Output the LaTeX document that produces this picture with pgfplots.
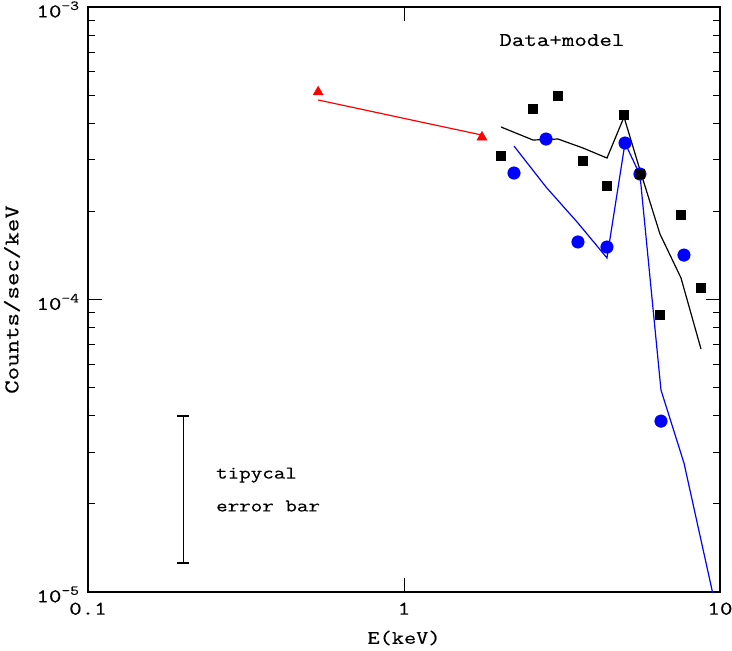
\documentclass[border=0pt]{standalone}
\usepackage{fontspec}
\setmonofont[FakeStretch=1.25, FakeBold=0.4]{Latin Modern Mono}
\usepackage{pgfplots}
\pgfplotsset{compat=1.18}
\begin{document}
\begin{tikzpicture}[font=\ttfamily]
\begin{axis}[
	scale only axis,
	width=632bp, height=585bp,
	xmode=log, ymode=log,
	xmin=0.1, xmax=10, ymin=1e-5, ymax=1e-3,
	xtick={0.1,1,10}, xticklabels={0.1,1,10},
	ytick={1e-5,1e-4,1e-3},
	yticklabels={10\textsuperscript{-5},10\textsuperscript{-4},10\textsuperscript{-3}},
	xminorticks=false,
	tick align=inside,
	major tick length=14bp, minor tick length=7.5bp,
	every tick/.style={black, line width=1bp},
	axis line style={line width=1.3bp},
	ticklabel style={font=\ttfamily\fontsize{19.5}{22}\selectfont},
	xticklabel style={yshift=-7bp},
	yticklabel style={xshift=-5bp, yshift=-2.5bp},
	xlabel={E(keV)}, ylabel={Counts/sec/keV},
	xlabel style={font=\ttfamily\fontsize{19}{22}\selectfont, anchor=center, at={(axis description cs:0.5,-0.0786)}},
	ylabel style={font=\ttfamily\fontsize{21}{24}\selectfont, anchor=center, at={(axis description cs:-0.1203,0.5)}},
]
% blue model
\addplot[blue, line width=1.2bp] coordinates {
(2.229,3.348e-4) (2.815,2.424e-4) (3.553,1.826e-4) (4.389,1.387e-4) (5.005,3.428e-4)
(5.582,2.665e-4) (6.505,4.905e-5) (7.693,2.761e-5) (9.712,8.82e-6)};
% blue data
\addplot[only marks, mark=*, mark size=6.3bp, blue, mark options={draw=blue, fill=blue}] coordinates {
(2.229,2.707e-4) (2.815,3.538e-4) (3.553,1.573e-4) (4.389,1.512e-4) (5.005,3.428e-4)
(5.582,2.686e-4) (6.505,3.84e-5) (7.693,1.419e-4)};
% black model
\addplot[black, line width=1.2bp] coordinates {
(2.028,3.889e-4) (2.560,3.510e-4) (3.071,3.538e-4) (3.686,3.296e-4) (4.389,3.046e-4)
(4.969,4.206e-4) (5.582,2.771e-4) (6.457,1.675e-4) (7.527,1.185e-4) (8.709,6.77e-5)};
% black data
\addplot[only marks, mark=square*, mark size=4.5bp, black] coordinates {
(2.028,3.094e-4) (2.560,4.480e-4) (3.071,4.962e-4) (3.686,2.975e-4) (4.389,2.443e-4)
(4.969,4.272e-4) (5.582,2.686e-4) (6.457,8.85e-5) (7.527,1.945e-4) (8.709,1.095e-4)};
% red model and data
\addplot[red, line width=1.2bp] coordinates {(0.535,4.81e-4) (1.765,3.65e-4)};
\addplot[only marks, mark=triangle*, mark size=5.8bp, red] coordinates {(0.535,5.12e-4) (1.765,3.59e-4)};
% typical error bar
\addplot[black, line width=1.2bp, mark=-, mark size=6bp] coordinates {(0.2,4.0e-5) (0.2,1.256e-5)};
\node[anchor=west, align=left, inner sep=0pt, font=\ttfamily\fontsize{18}{33}\selectfont]
	at (axis cs:0.254,2.24e-5) {tipycal\\error bar};
\node[font=\ttfamily\fontsize{19.5}{22}\selectfont] at (axis cs:3.16,7.71e-4) {Data+model};
\coordinate (sw) at (rel axis cs:0,0);
\coordinate (ne) at (rel axis cs:1,1);
\end{axis}
\pgfresetboundingbox
\path ([xshift=-88bp,yshift=-58bp]sw) rectangle ([xshift=12bp,yshift=7bp]ne);
\end{tikzpicture}
\end{document}
